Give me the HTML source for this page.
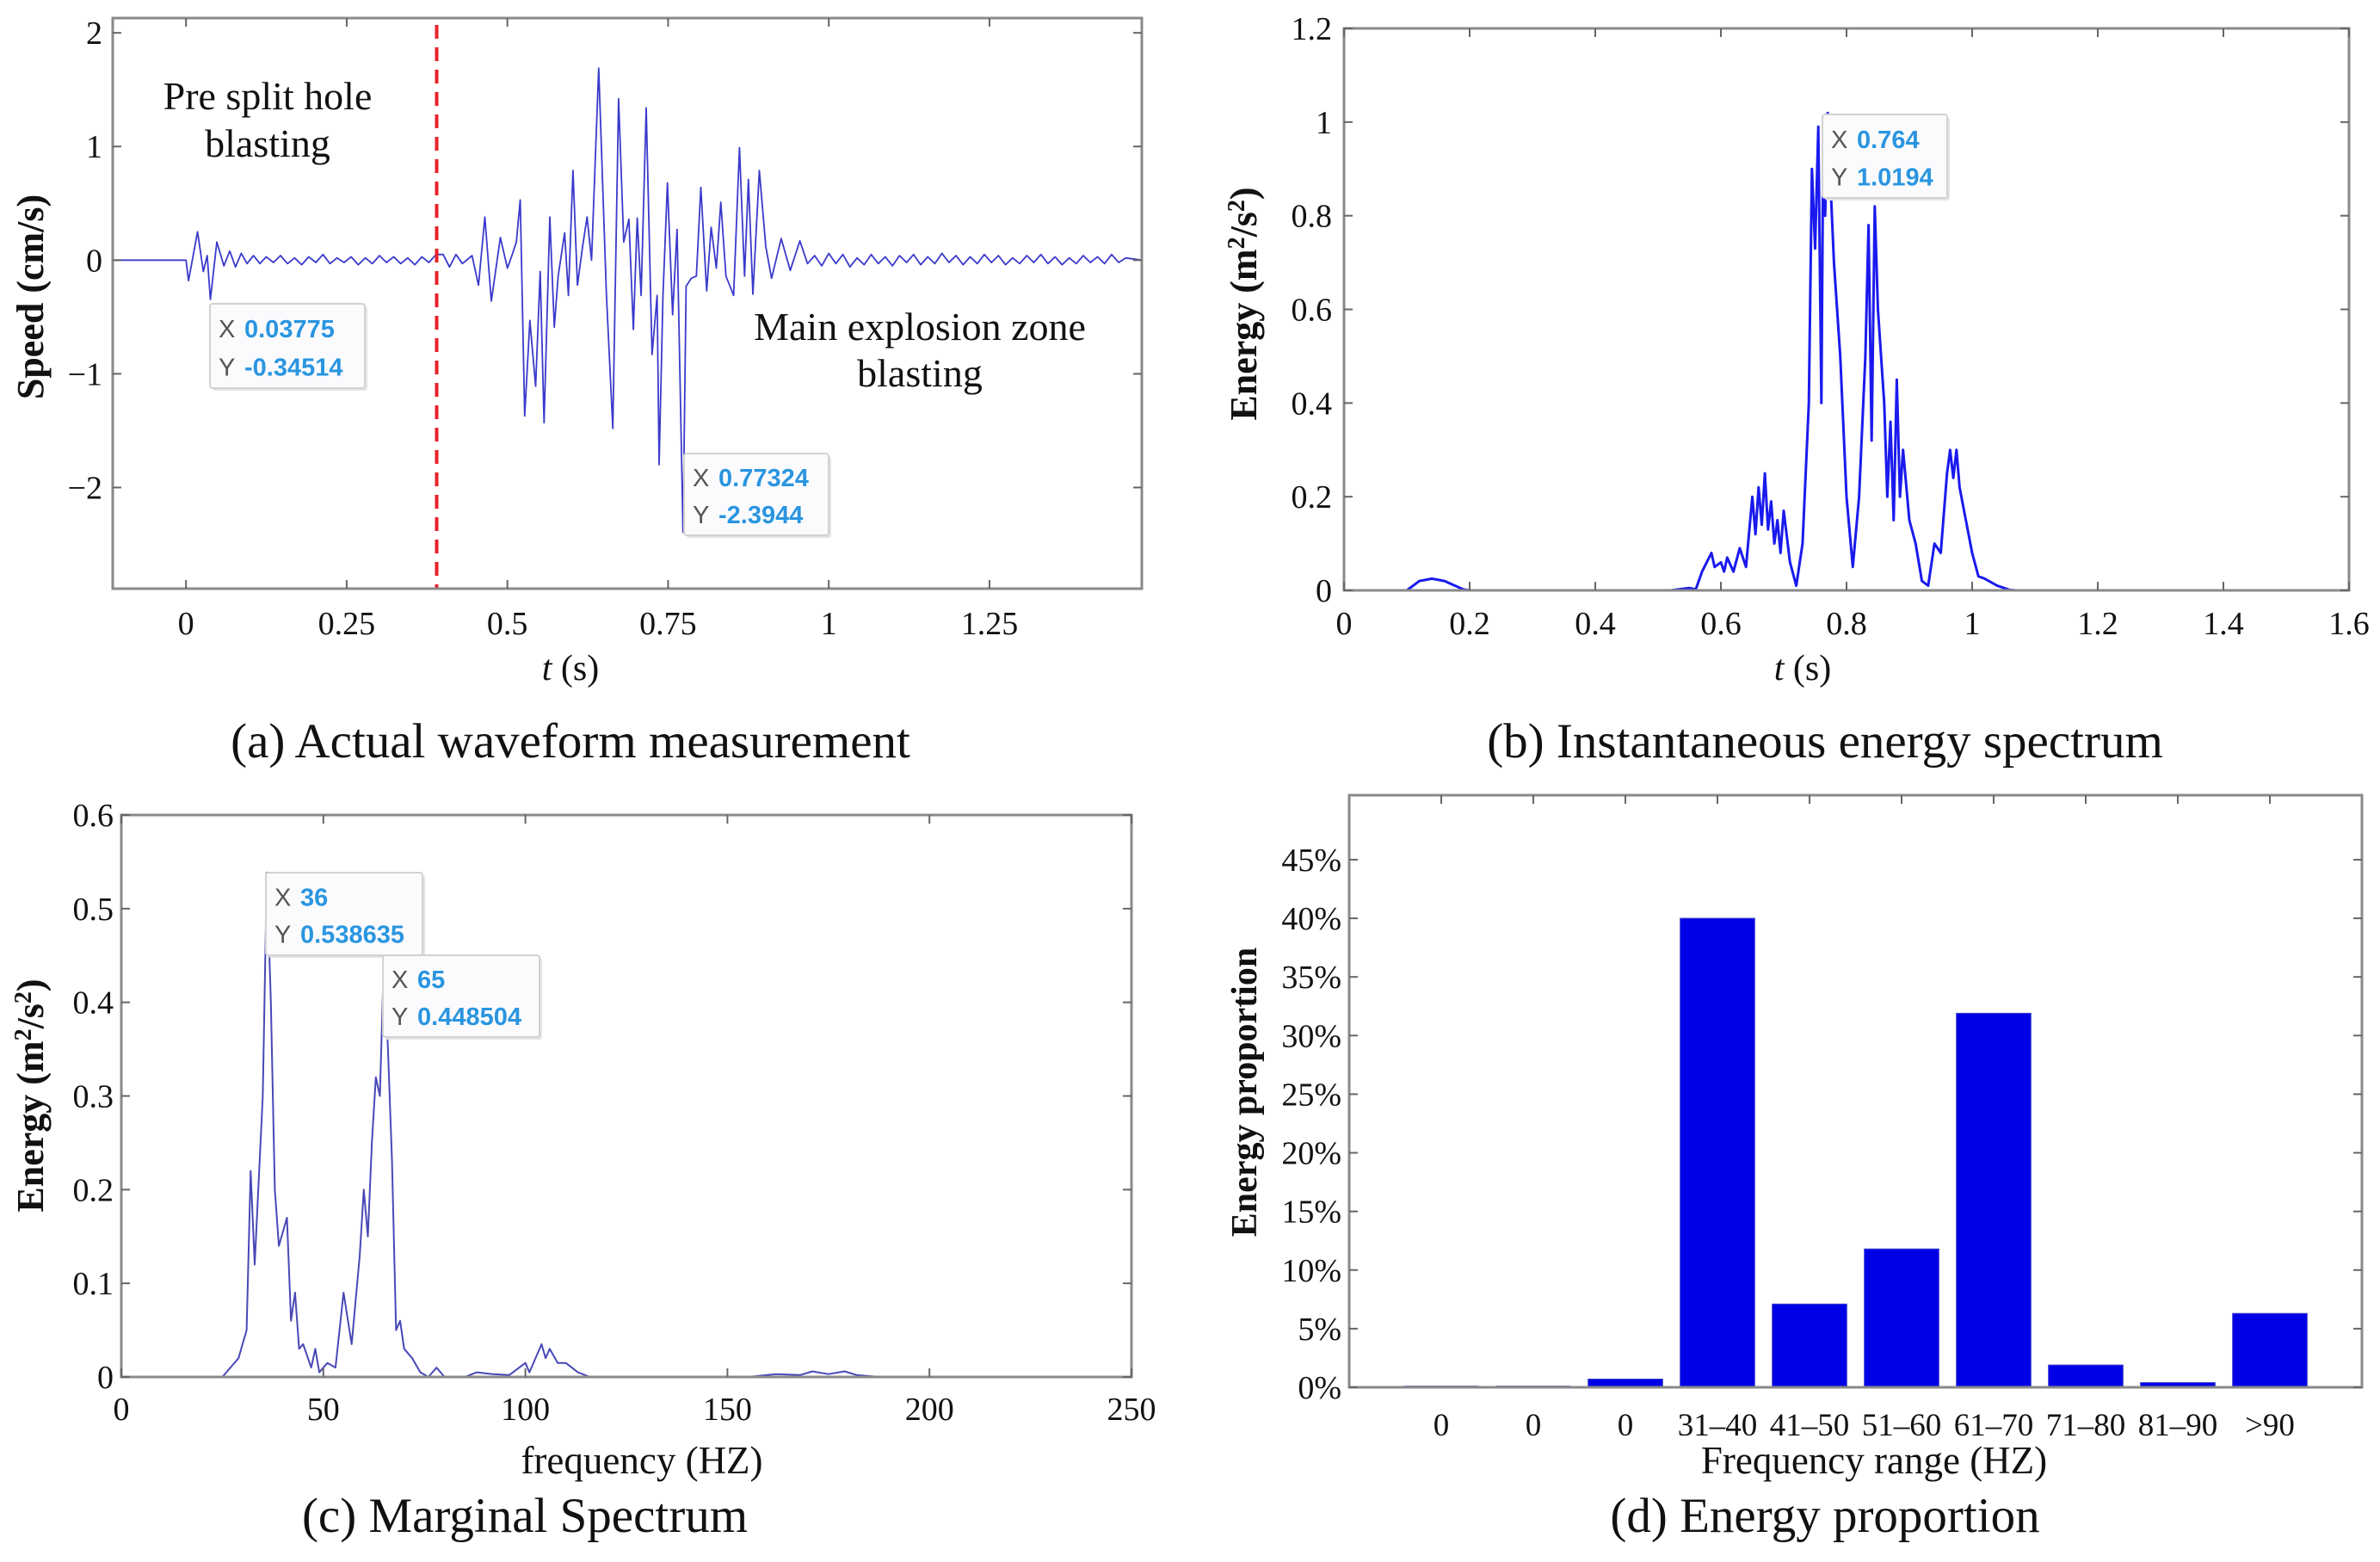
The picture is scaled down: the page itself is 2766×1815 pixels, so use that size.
<!DOCTYPE html>
<html><head><meta charset="utf-8">
<style>
html,body{margin:0;padding:0;background:#fff;}
svg{display:block;}
text{font-family:"Liberation Serif",serif;}
.tip text{font-family:"Liberation Sans",sans-serif;}
</style></head>
<body>
<svg id="fig" width="2766" height="1815" viewBox="0 0 2766 1815" xmlns="http://www.w3.org/2000/svg"></svg>
<script>
// ---------- (a) waveform data ----------
const waveT = [-0.114,0,0.004,0.018,0.027,0.033,0.038,0.048,0.059,0.068,0.077,0.086,0.095,0.105,0.115];
const waveV = [0,0,-0.18,0.25,-0.1,0.04,-0.345,0.16,-0.05,0.08,-0.06,0.06,-0.03,0.04,-0.03];
const noise1Start = 0.125, noise1Step = 0.011;
const noise1V = [0.03,-0.02,0.04,-0.03,0.02,-0.04,0.03,-0.02,0.05,-0.03,0.02,-0.02,0.03,-0.04,0.02,-0.03,0.04,-0.02,0.03,-0.03,0.02,-0.04,0.03,-0.02,0.05];
const waveT2 = [0.40,0.41,0.42,0.43,0.445,0.455,0.465,0.475,0.489,0.500,0.507,0.514,0.520,0.527,0.535,0.544,0.551,0.557,0.566,0.573,0.579,0.589,0.595,0.602,0.609,0.617,0.624,0.631,0.642,0.654,0.664,0.673,0.681,0.689,0.696,0.702,0.708,0.716,0.725,0.733,0.736,0.742,0.749,0.757,0.764,0.7732,0.778,0.786,0.794,0.801,0.810,0.817,0.825,0.832,0.840,0.852,0.861,0.869,0.875,0.882,0.892,0.902,0.911,0.926,0.940,0.955,0.967];
const waveV2 = [0.05,-0.06,0.05,-0.03,0.04,-0.22,0.38,-0.36,0.2,-0.07,0.04,0.16,0.53,-1.37,-0.53,-1.11,-0.1,-1.43,0.38,-0.59,-0.14,0.24,-0.31,0.79,-0.22,0.12,0.38,0,1.69,-0.29,-1.48,1.42,0.16,0.36,-0.61,0.37,-0.31,1.34,-0.83,-0.31,-1.8,-0.31,0.68,-0.48,0.27,-2.3944,-0.23,-0.16,-0.14,0.64,-0.27,0.29,-0.07,0.51,-0.14,-0.31,0.99,-0.14,0.71,-0.3,0.79,0.12,-0.16,0.19,-0.09,0.17,-0.03];
const noise2Start = 0.978, noise2Step = 0.011;
const noise2V = [0.04,-0.05,0.06,-0.03,0.05,-0.06,0.02,-0.04,0.05,-0.03,0.03,-0.05,0.04,-0.02,0.05,-0.04,0.03,-0.03,0.06,-0.02,0.04,-0.04,0.03,-0.03,0.05,-0.02,0.04,-0.04,0.02,-0.03,0.04,-0.02,0.05,-0.03,0.03,-0.04,0.02,-0.03,0.04,-0.02,0.03,-0.03,0.05,-0.02,0.02];
const splitT = 0.39;
const aXTicks = [0,0.25,0.5,0.75,1,1.25];
const aXLabels = ["0","0.25","0.5","0.75","1","1.25"];
const aYTicks = [-2,-1,0,1,2];
const aYLabels = ["\u22122","\u22121","0","1","2"];

// ---------- (b) instantaneous energy ----------
const enT = [0,0.1,0.12,0.14,0.16,0.19,0.2,0.52,0.55,0.56,0.57,0.585,0.59,0.6,0.605,0.61,0.62,0.63,0.64,0.65,0.655,0.66,0.665,0.67,0.675,0.68,0.685,0.69,0.695,0.70,0.71,0.72,0.73,0.74,0.745,0.75,0.755,0.76,0.763,0.766,0.77,0.775,0.78,0.79,0.8,0.81,0.82,0.83,0.835,0.84,0.845,0.85,0.86,0.865,0.87,0.875,0.88,0.885,0.89,0.9,0.91,0.92,0.93,0.94,0.95,0.96,0.965,0.97,0.975,0.98,0.99,1.0,1.01,1.02,1.04,1.06,1.07,1.6];
const enV = [0,0,0.02,0.025,0.02,0.002,0,0,0.005,0.002,0.04,0.08,0.05,0.06,0.04,0.07,0.04,0.09,0.05,0.2,0.12,0.22,0.14,0.25,0.13,0.19,0.1,0.15,0.08,0.17,0.06,0.01,0.1,0.4,0.9,0.73,0.99,0.4,0.98,0.8,1.0194,0.85,0.7,0.5,0.2,0.05,0.2,0.5,0.78,0.32,0.82,0.6,0.4,0.2,0.36,0.15,0.45,0.2,0.3,0.15,0.1,0.02,0.01,0.1,0.08,0.25,0.3,0.24,0.3,0.22,0.15,0.08,0.03,0.025,0.01,0.001,0,0];
const bXTicks = [0,0.2,0.4,0.6,0.8,1,1.2,1.4,1.6];
const bXLabels = ["0","0.2","0.4","0.6","0.8","1","1.2","1.4","1.6"];
const bYTicks = [0,0.2,0.4,0.6,0.8,1,1.2];
const bYLabels = ["0","0.2","0.4","0.6","0.8","1","1.2"];

// ---------- (c) marginal spectrum ----------
const msF = [0,25,27,29,31,32,33,35,36,37,38,39,41,42,43,44,45,47,48,49,51,53,55,57,59,60,61,62,63,64,65,66,67,68,69,70,72,74,76,78,80,85,88,92,96,100,101,104,105,106,108,110,113,116,155,162,168,171,175,179,182,188,250];
const msE = [0,0,0.01,0.02,0.05,0.22,0.12,0.3,0.538635,0.4,0.2,0.14,0.17,0.06,0.09,0.03,0.035,0.01,0.03,0.005,0.015,0.01,0.09,0.035,0.13,0.2,0.15,0.25,0.32,0.3,0.448504,0.35,0.23,0.05,0.06,0.03,0.02,0.005,0,0.01,0,0,0.005,0.003,0.002,0.015,0.005,0.035,0.02,0.03,0.015,0.015,0.005,0,0,0.003,0.002,0.006,0.003,0.006,0.002,0,0];
const cXTicks = [0,50,100,150,200,250];
const cXLabels = ["0","50","100","150","200","250"];
const cYTicks = [0,0.1,0.2,0.3,0.4,0.5,0.6];
const cYLabels = ["0","0.1","0.2","0.3","0.4","0.5","0.6"];

// ---------- (d) energy proportion ----------
const dCats = ["0","0","0","31\u201340","41\u201350","51\u201360","61\u201370","71\u201380","81\u201390",">90"];
const dVals = [0.001,0.001,0.007,0.40,0.071,0.118,0.319,0.019,0.004,0.063];
const dYTicks = [0,0.05,0.10,0.15,0.20,0.25,0.30,0.35,0.40,0.45];
const dYLabels = ["0%","5%","10%","15%","20%","25%","30%","35%","40%","45%"];

const NS = "http://www.w3.org/2000/svg";
const svg = document.getElementById('fig');
function el(tag, attrs, parent, txt){
  const e = document.createElementNS(NS, tag);
  for (const k in attrs) e.setAttribute(k, attrs[k]);
  if (txt !== undefined) e.textContent = txt;
  (parent||svg).appendChild(e);
  return e;
}
function axes(p){
  const sx = v => p.x0 + (v - p.xmin) / (p.xmax - p.xmin) * (p.x1 - p.x0);
  const sy = v => p.y1 - (v - p.ymin) / (p.ymax - p.ymin) * (p.y1 - p.y0);
  return {sx, sy};
}
function frame(g, p, name){
  const r = el('rect', {x:p.x0, y:p.y0, width:p.x1-p.x0, height:p.y1-p.y0, fill:'none', stroke:'#8a8a8a', 'stroke-width':3}, g);
  
  
}
function ticksX(g, p, sx, ticks, labels, ly, name){
  const tg = el('g', {}, g);
  
  
  ticks.forEach((t,i)=>{
    const x = sx(t);
    el('line',{x1:x,x2:x,y1:p.y1,y2:p.y1-10,stroke:'#666','stroke-width':2},tg);
    el('line',{x1:x,x2:x,y1:p.y0,y2:p.y0+10,stroke:'#666','stroke-width':2},tg);
    const tx = el('text',{x:x,y:ly,'font-size':38,'text-anchor':'middle',fill:'#111'},tg,labels[i]);
    
    
  });
}
function ticksY(g, p, sy, ticks, labels, lx, name){
  const tg = el('g', {}, g);
  
  
  ticks.forEach((t,i)=>{
    const y = sy(t);
    el('line',{x1:p.x0,x2:p.x0+10,y1:y,y2:y,stroke:'#666','stroke-width':2},tg);
    el('line',{x1:p.x1,x2:p.x1-10,y1:y,y2:y,stroke:'#666','stroke-width':2},tg);
    const tx = el('text',{x:lx,y:y+13,'font-size':38,'text-anchor':'end',fill:'#111'},tg,labels[i]);
    
    
  });
}
function ylabel(g, x, y, txt, name, size){
  const t = el('text',{x:0,y:0,'font-size':size,'font-weight':'bold','text-anchor':'middle',fill:'#111',transform:`translate(${x},${y}) rotate(-90)`},g);
  t.innerHTML = txt;
  
  
}
function label(g, x, y, txt, size, name){
  const t = el('text',{x:x,y:y,'font-size':size,'text-anchor':'middle',fill:'#111'},g);
  t.innerHTML = txt;
  
  
  return t;
}
function tip(g, x, y, w, h, xv, yv, name){
  const tg = el('g',{class:'tip'},g);
  
  
  el('rect',{x:x+3,y:y+3,width:w,height:h,fill:'#e4e4e4',rx:3},tg);
  el('rect',{x:x,y:y,width:w,height:h,fill:'#fbfbfd',stroke:'#d2d2d2','stroke-width':2,rx:3},tg);
  el('text',{x:x+10,y:y+h*0.40,'font-size':29,fill:'#555'},tg,'X');
  el('text',{x:x+40,y:y+h*0.40,'font-size':29,'font-weight':'bold',fill:'#2a95e0'},tg,xv);
  el('text',{x:x+10,y:y+h*0.85,'font-size':29,fill:'#555'},tg,'Y');
  el('text',{x:x+40,y:y+h*0.85,'font-size':29,'font-weight':'bold',fill:'#2a95e0'},tg,yv);
}
const SUP = 'Energy (m<tspan font-size="28" dy="-14">2</tspan><tspan dy="14">/s</tspan><tspan font-size="28" dy="-14">2</tspan><tspan dy="14">)</tspan>';

// ===== Panel (a) =====
{
  const p = {x0:131,x1:1327,y0:21,y1:684,xmin:-0.114,xmax:1.487,ymin:-2.89,ymax:2.13};
  const {sx, sy} = axes(p);
  const g = el('g',{});
  
  
  const pts = [];
  waveT.forEach((t,i)=>pts.push([t,waveV[i]]));
  noise1V.forEach((v,i)=>pts.push([noise1Start+i*noise1Step,v]));
  waveT2.forEach((t,i)=>pts.push([t,waveV2[i]]));
  noise2V.forEach((v,i)=>pts.push([noise2Start+i*noise2Step,v]));
  pts.push([1.487,0]);
  const line = el('polyline',{points:pts.map(q=>sx(q[0]).toFixed(1)+','+sy(q[1]).toFixed(1)).join(' '),fill:'none',stroke:'#3a3acc','stroke-width':1.8,'stroke-linejoin':'round'},g);
  
  
  const dl = el('line',{x1:sx(splitT),x2:sx(splitT),y1:p.y0+8,y2:p.y1,stroke:'#e8222a','stroke-width':4,'stroke-dasharray':'16,10'},g);
  
  
  frame(g,p,'panel-a');
  ticksX(g,p,sx,aXTicks,aXLabels,737,'panel-a');
  ticksY(g,p,sy,aYTicks,aYLabels,119,'panel-a');
  ylabel(g,50,345,'Speed (cm/s)','panel-a-y-axis-title',44);
  label(g,663,790,'<tspan font-style="italic">t</tspan> (s)',42,'panel-a-x-axis-title');
  label(g,311,127,'Pre split hole',46,'pre-split-annotation');
  label(g,311,182,'blasting',46,'pre-split-annotation-line2');
  label(g,1069,395,'Main explosion zone',46,'main-explosion-annotation');
  label(g,1069,449,'blasting',46,'main-explosion-annotation-line2');
  tip(g,244,353,180,98,'0.03775','-0.34514','datatip-a-first');
  tip(g,795,527,168,95,'0.77324','-2.3944','datatip-a-min');
  label(g,663,880,'(a) Actual waveform measurement',57,'caption-a');
}
// ===== Panel (b) =====
{
  const p = {x0:1562,x1:2730,y0:33,y1:686,xmin:0,xmax:1.6,ymin:0,ymax:1.2};
  const {sx, sy} = axes(p);
  const g = el('g',{});
  
  
  const line = el('polyline',{points:enT.map((t,i)=>sx(t).toFixed(1)+','+sy(enV[i]).toFixed(1)).join(' '),fill:'none',stroke:'#1a1aee','stroke-width':3,'stroke-linejoin':'round'},g);
  
  
  frame(g,p,'panel-b');
  ticksX(g,p,sx,bXTicks,bXLabels,737,'panel-b');
  ticksY(g,p,sy,bYTicks,bYLabels,1548,'panel-b');
  ylabel(g,1460,353,SUP,'panel-b-y-axis-title',44);
  label(g,2095,790,'<tspan font-style="italic">t</tspan> (s)',42,'panel-b-x-axis-title');
  tip(g,2118,133,145,97,'0.764','1.0194','datatip-b-peak');
  label(g,2121,880,'(b) Instantaneous energy spectrum',57,'caption-b');
}
// ===== Panel (c) =====
{
  const p = {x0:141,x1:1315,y0:947,y1:1600,xmin:0,xmax:250,ymin:0,ymax:0.6};
  const {sx, sy} = axes(p);
  const g = el('g',{});
  
  
  const line = el('polyline',{points:msF.map((f,i)=>sx(f).toFixed(1)+','+sy(msE[i]).toFixed(1)).join(' '),fill:'none',stroke:'#4848b8','stroke-width':2,'stroke-linejoin':'round'},g);
  
  
  frame(g,p,'panel-c');
  ticksX(g,p,sx,cXTicks,cXLabels,1650,'panel-c');
  ticksY(g,p,sy,cYTicks,cYLabels,132,'panel-c');
  ylabel(g,50,1273,SUP,'panel-c-y-axis-title',44);
  label(g,746,1712,'frequency (HZ)',45,'panel-c-x-axis-title');
  tip(g,309,1014,182,96,'36','0.538635','datatip-c-peak1');
  tip(g,445,1110,182,95,'65','0.448504','datatip-c-peak2');
  label(g,610,1780,'(c) Marginal Spectrum',57,'caption-c');
}
// ===== Panel (d) =====
{
  const p = {x0:1568,x1:2745,y0:924,y1:1612,xmin:0,xmax:11,ymin:0,ymax:0.505};
  const {sx, sy} = axes(p);
  const g = el('g',{});
  
  
  const bw = (sx(1)-sx(0))*0.81;
  dVals.forEach((v,i)=>{
    const cx = sx(i+1);
    const b = el('rect',{x:cx-bw/2,y:sy(v),width:bw,height:Math.max(1.5,sy(0)-sy(v)),fill:v<0.003?'#bbbbbb':'#0000e6',stroke:'#3b3bd0','stroke-width':1},g);
    
    
  });
  frame(g,p,'panel-d');
  const tg = el('g',{},g);
  
  
  dCats.forEach((c,i)=>{
    const x = sx(i+1);
    el('line',{x1:x,x2:x,y1:p.y0,y2:p.y0+10,stroke:'#666','stroke-width':2},tg);
    const tx = el('text',{x:x,y:1668,'font-size':37,'text-anchor':'middle',fill:'#111'},tg,c);
    
    
  });
  ticksY(g,p,sy,dYTicks,dYLabels,1559,'panel-d');
  ylabel(g,1460,1269,'Energy proportion','panel-d-y-axis-title',42);
  label(g,2178,1712,'Frequency range (HZ)',45,'panel-d-x-axis-title');
  label(g,2121,1780,'(d) Energy proportion',57,'caption-d');
}
</script>
</body></html>
